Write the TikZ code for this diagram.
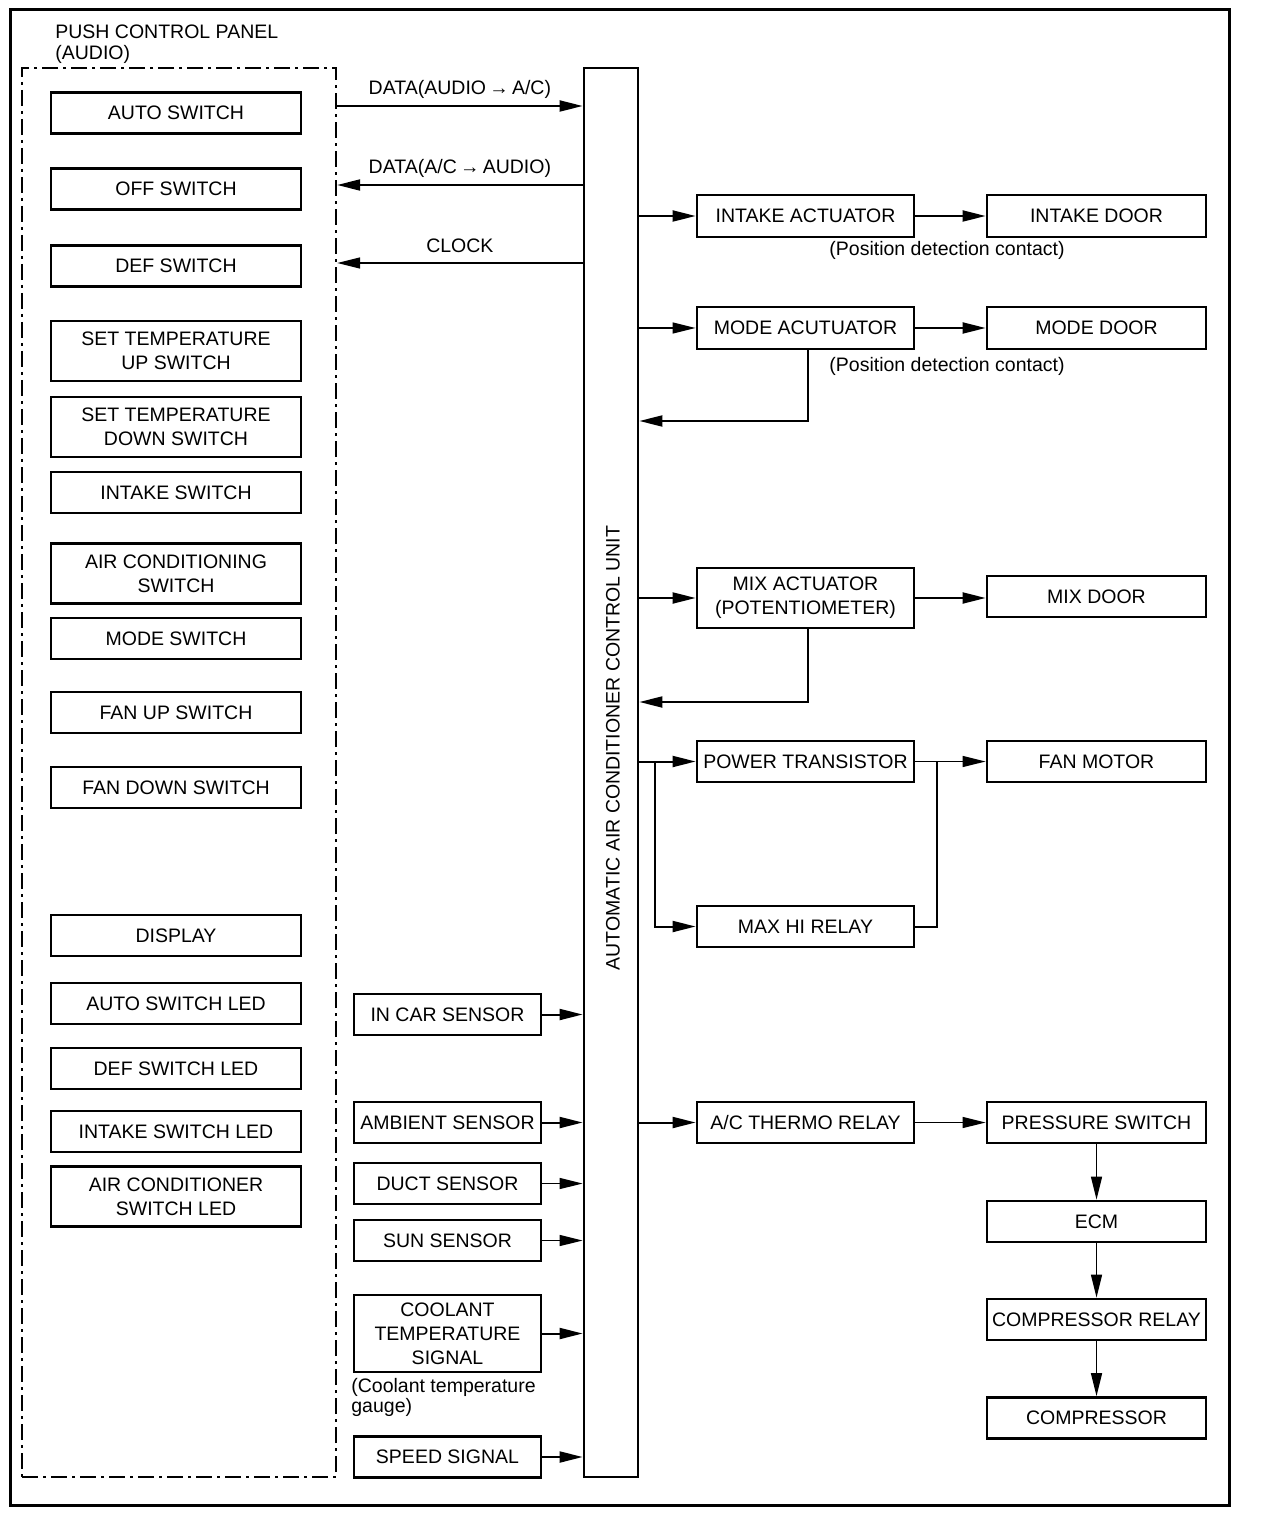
\documentclass[tikz,border=0pt]{standalone}
\usepackage{fontspec}
\setmainfont{Liberation Sans}
\usepackage{tikz}
\usetikzlibrary{arrows.meta,calc,positioning}

\begin{document}
\begin{tikzpicture}[
      x=0.5pt,y=-0.5pt,
      font=\fontsize{9.75}{12}\selectfont,
      box/.style={draw,line width=1.4pt,minimum width=125pt,
        minimum height=20.5pt,align=center,inner xsep=1pt,inner ysep=1pt},
      tallbox/.style={box,minimum height=30pt},
      sensor/.style={box,minimum width=93.5pt},
      actr/.style={box,minimum width=108.5pt},
      dev/.style={box,minimum width=109.5pt},
      note/.style={inner sep=0pt},
      sig/.style={-{Triangle[length=11.5pt,width=5.5pt]},line width=1pt},
      vsig/.style={sig,line width=0.7pt}
    ]
    \useasboundingbox (0,0) rectangle (1264,1534);
    \draw[line width=1.5pt] (10,10) rectangle (1229,1505);

    % push control panel
    \node[note,anchor=north west,align=left,font=\fontsize{9.75}{10.5}\selectfont]
      (paneltitle) at (55,24) {PUSH CONTROL PANEL\\(AUDIO)};
    \node[draw,line width=1.2pt,dash pattern=on 8pt off 2.5pt on 1.5pt off 2.5pt,
      minimum width=157pt,minimum height=704.5pt] (panel) at (179,772.5) {};
    \node[box] (auto) at (176,113) {AUTO SWITCH};
    \node[box] (off) at (176,189) {OFF SWITCH};
    \node[box] (def) at (176,266) {DEF SWITCH};
    \node[tallbox] (tup) at (176,351) {SET TEMPERATURE\\UP SWITCH};
    \node[tallbox] (tdown) at (176,427) {SET TEMPERATURE\\DOWN SWITCH};
    \node[box] (intake) at (176,492.5) {INTAKE SWITCH};
    \node[tallbox] (aircon) at (176,573.5) {AIR CONDITIONING\\SWITCH};
    \node[box] (mode) at (176,638.5) {MODE SWITCH};
    \node[box] (fanup) at (176,712.5) {FAN UP SWITCH};
    \node[box] (fandown) at (176,787.5) {FAN DOWN SWITCH};
    \node[box] (display) at (176,935.5) {DISPLAY};
    \node[box] (autoled) at (176,1003.5) {AUTO SWITCH LED};
    \node[box] (defled) at (176,1068.5) {DEF SWITCH LED};
    \node[box] (intakeled) at (176,1131.5) {INTAKE SWITCH LED};
    \node[tallbox] (acled) at (176,1196.5) {AIR CONDITIONER\\SWITCH LED};

    % control unit
    \node[draw,line width=1.4pt,minimum width=27pt,minimum height=704.5pt]
      (unit) at (611,772.5) {};
    \node[note,rotate=90] (unitlabel) at (613,748)
      {AUTOMATIC AIR CONDITIONER CONTROL UNIT};

    % sensors
    \node[sensor] (incar) at (447.5,1014.5) {IN CAR SENSOR};
    \node[sensor] (ambient) at (447.5,1122.5) {AMBIENT SENSOR};
    \node[sensor] (duct) at (447.5,1183.5) {DUCT SENSOR};
    \node[sensor] (sun) at (447.5,1240.5) {SUN SENSOR};
    \node[sensor,minimum height=38.5pt] (coolant) at (447.5,1333.5)
      {COOLANT\\TEMPERATURE\\SIGNAL};
    \node[note,anchor=north west,align=left,font=\fontsize{9.75}{8.75}\selectfont]
      (gauge) at (351,1378) {(Coolant temperature\\gauge)};
    \node[sensor] (speed) at (447.5,1457) {SPEED SIGNAL};

    % actuators
    \node[actr,minimum height=21pt] (intakeact) at (805.5,216) {INTAKE ACTUATOR};
    \node[actr,minimum height=21pt] (modeact) at (805.5,328) {MODE ACUTUATOR};
    \node[actr,minimum height=30pt] (mixact) at (805.5,598)
      {MIX ACTUATOR\\(POTENTIOMETER)};
    \node[actr] (pwr) at (805.5,761.5) {POWER TRANSISTOR};
    \node[actr] (maxhi) at (805.5,926.5) {MAX HI RELAY};
    \node[actr] (thermo) at (805.5,1122.5) {A/C THERMO RELAY};

    \node[dev,minimum height=21pt] (intakedoor) at (1096.5,216) {INTAKE DOOR};
    \node[dev,minimum height=21pt] (modedoor) at (1096.5,328) {MODE DOOR};
    \node[dev] (mixdoor) at (1096.5,596.5) {MIX DOOR};
    \node[dev] (fan) at (1096.5,761.5) {FAN MOTOR};
    \node[dev] (press) at (1096.5,1122.5) {PRESSURE SWITCH};
    \node[dev] (ecm) at (1096.5,1221.5) {ECM};
    \node[dev] (comprly) at (1096.5,1319.5) {COMPRESSOR RELAY};
    \node[dev] (comp) at (1096.5,1418) {COMPRESSOR};

    \node[note] (pos1) at (947,250) {(Position detection contact)};
    \node[note] (pos2) at (947,366) {(Position detection contact)};

    % audio link
    \coordinate (dtx) at (460,106);
    \coordinate (drx) at (460,185);
    \coordinate (clk) at (460,263);
    \draw[sig] (panel.east |- dtx) -- (unit.west |- dtx)
      node[midway,above,inner sep=3pt] {DATA(AUDIO\,→\,A/C)};
    \draw[sig] (unit.west |- drx) -- (panel.east |- drx)
      node[midway,above,inner sep=3pt] {DATA(A/C\,→\,AUDIO)};
    \draw[vsig] (unit.west |- clk) -- (panel.east |- clk)
      node[midway,above,inner sep=5pt] {CLOCK};

    % sensor inputs
    \draw[sig] (incar) -- (unit.west |- incar);
    \draw[sig] (ambient) -- (unit.west |- ambient);
    \draw[vsig] (duct) -- (unit.west |- duct);
    \draw[vsig] (sun) -- (unit.west |- sun);
    \draw[sig] (coolant) -- (unit.west |- coolant);
    \draw[sig] (speed) -- (unit.west |- speed);

    % outputs
    \coordinate (fb1) at (700,421);
    \coordinate (fb2) at (700,702);
    \draw[sig] (unit.east |- intakeact) -- (intakeact);
    \draw[sig] (intakeact) -- (intakedoor);
    \draw[vsig] (unit.east |- modeact) -- (modeact);
    \draw[sig] (modeact) -- (modedoor);
    \draw[sig] ([xshift=1pt]modeact.south) |- (unit.east |- fb1);
    \draw[sig] (unit.east |- mixact) -- (mixact);
    \draw[sig] (mixact.east) -- (mixdoor.west |- mixact.east);
    \draw[sig] ([xshift=1pt]mixact.south) |- (unit.east |- fb2);
    \draw[sig] (unit.east |- pwr) -- (pwr);
    \draw[sig] ([xshift=8pt]unit.east |- pwr) |- (maxhi);
    \draw[vsig] (pwr) -- (fan);
    \draw[line width=1pt] (maxhi.east) -| ([xshift=11pt]pwr.east);
    \draw[sig] (unit.east |- thermo) -- (thermo);
    \draw[vsig] (thermo) -- (press);
    \draw[vsig] (press) -- (ecm);
    \draw[vsig] (ecm) -- (comprly);
    \draw[vsig] (comprly) -- (comp);
  \end{tikzpicture}
\end{document}
